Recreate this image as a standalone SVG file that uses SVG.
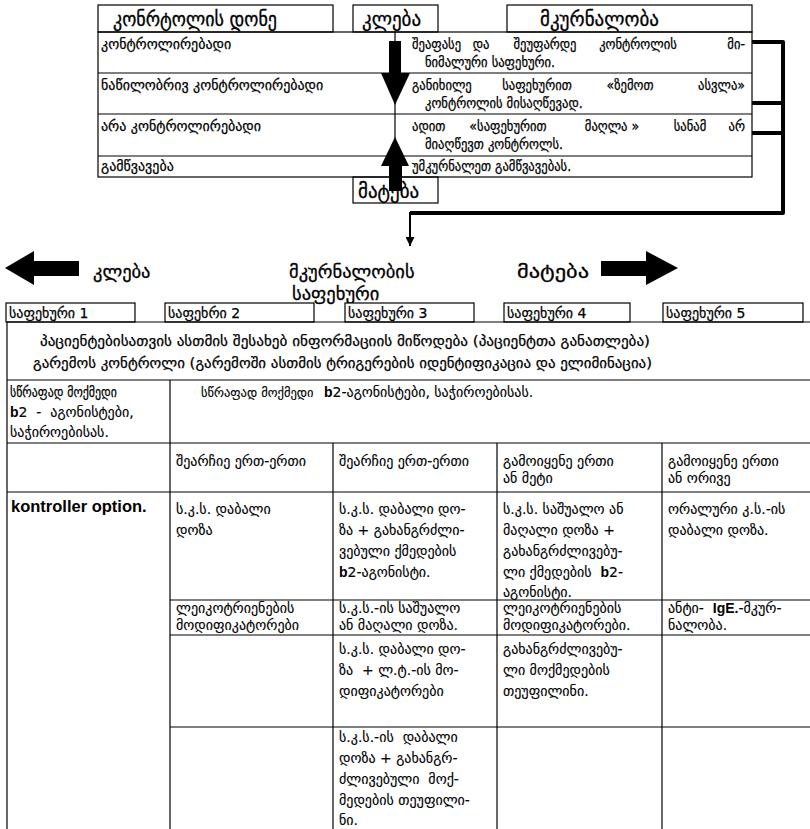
<svg xmlns="http://www.w3.org/2000/svg" width="810" height="829" viewBox="0 0 810 829">
  <style>
    text { font-family: "DejaVu Sans", "Noto Sans", sans-serif; fill: #000; white-space: pre; }
    .cond { font-family: "DejaVu Sans Condensed", "DejaVu Sans", sans-serif; font-stretch: condensed; }
    .hd { font-size: 19px; stroke: #000; stroke-width: 0.3; }
    .tt { font-size: 14px; stroke: #000; stroke-width: 0.25; }
    .mid { font-size: 18.5px; stroke: #000; stroke-width: 0.3; }
    .st { font-size: 14px; stroke: #000; stroke-width: 0.25; }
    .cell { font-size: 14px; stroke: #000; stroke-width: 0.15; }
    .lat { font-family: "Liberation Sans", Arial, sans-serif; font-weight: bold; stroke: none; }
    .ln { stroke: #000; stroke-width: 1.2; fill: none; }
    .box { stroke: #000; stroke-width: 1.2; fill: #fff; }
    .thick { stroke: #000; stroke-width: 4; fill: none; stroke-linejoin: round; }
    .blk { fill: #000; stroke: none; }
  </style>
  <defs>
    <marker id="tip" viewBox="0 0 10 10" refX="10" refY="5" markerWidth="9" markerHeight="9" markerUnits="userSpaceOnUse" orient="auto">
      <path d="M0,0 L10,5 L0,10 Z" fill="#000"/>
    </marker>
  </defs>

  <!-- step down / step up arrows (drawn under the labels) -->
  <g id="step-arrows">
    <path class="blk" d="M389,41 H401 V73 H410 L395,105 L381,73 H389 Z"/>
    <path class="blk" d="M395,137 L409,166 H402 V191 H389 V166 H381 Z"/>
  </g>

  <!-- control level table -->
  <g id="control-table">
    <rect class="box" x="98" y="5" width="235" height="27"/>
    <text class="hd cond" x="113" y="26" textLength="164" lengthAdjust="spacingAndGlyphs">კონრტოლის დონე</text>
    <rect class="box" x="353" y="5" width="85" height="27"/>
    <text class="hd" x="362" y="26">კლება</text>
    <rect class="box" x="507" y="5" width="245" height="27"/>
    <text class="hd" x="540" y="26">მკურნალობა</text>

    <rect class="ln" x="98" y="32" width="654" height="145"/>
    <line class="ln" x1="98" y1="73" x2="752" y2="73"/>
    <line class="ln" x1="98" y1="114" x2="752" y2="114"/>
    <line class="ln" x1="98" y1="156" x2="752" y2="156"/>
    <line class="ln" x1="395" y1="32" x2="395" y2="177"/>

    <text class="tt" x="101" y="49">კონტროლირებადი</text>
    <text class="tt" x="101" y="90">ნაწილობრივ კონტროლირებადი</text>
    <text class="tt" x="101" y="131">არა კონტროლირებადი</text>
    <text class="tt" x="101" y="171">გამწვავება</text>

    <g class="tt cond">
      <text x="412" y="49">შეაფასე</text>
      <text x="481" y="49" text-anchor="middle">და</text>
      <text x="545" y="49" text-anchor="middle">შეუფარდე</text>
      <text x="638" y="49" text-anchor="middle">კონტროლის</text>
      <text x="745" y="49" text-anchor="end">მი-</text>
      <text x="425" y="67">ნიმალური საფეხური.</text>

      <text x="412" y="90">განიხილე</text>
      <text x="537" y="90" text-anchor="middle">საფეხურით</text>
      <text x="630" y="90" text-anchor="middle">«ზემოთ</text>
      <text x="745" y="90" text-anchor="end">ასვლა»</text>
      <text x="425" y="108">კონტროლის მისაღწევად.</text>

      <text x="412" y="131">ადით</text>
      <text x="508" y="131" text-anchor="middle">«საფეხურით</text>
      <text x="612" y="131" text-anchor="middle">მაღლა »</text>
      <text x="690" y="131" text-anchor="middle">სანამ</text>
      <text x="745" y="131" text-anchor="end">არ</text>
      <text x="425" y="149">მიაღწევთ კონტროლს.</text>

      <text x="412" y="171">უმკურნალეთ გამწვავებას.</text>
    </g>
  </g>

  <g id="increase-box">
    <rect x="353" y="177" width="85" height="26" fill="none" stroke="#000" stroke-width="1.2"/>
    <text class="hd" x="358" y="198">მატება</text>
  </g>

  <!-- connectors from treatment column to the steps -->
  <g id="connectors">
    <path class="thick" d="M752,42 H783 V213 H410"/>
    <line class="thick" x1="752" y1="103" x2="783" y2="103"/>
    <line class="thick" x1="752" y1="133" x2="783" y2="133"/>
    <line stroke="#000" stroke-width="2" x1="410" y1="212" x2="410" y2="246" marker-end="url(#tip)"/>
  </g>

  <!-- treatment steps heading -->
  <g id="steps-heading">
    <path class="blk" d="M5,268 L34,251 V261 H79 V276 H34 V285 Z"/>
    <text class="mid" x="93" y="278">კლება</text>
    <text class="mid" x="289" y="278">მკურნალობის</text>
    <text class="mid" x="292" y="300">საფეხური</text>
    <text class="mid" x="517" y="278" textLength="72" lengthAdjust="spacingAndGlyphs">მატება</text>
    <path class="blk" d="M678,268 L646,251 V261 H601 V276 H646 V285 Z"/>
  </g>

  <g id="step-1"><rect class="box" x="6" y="303" width="129" height="19"/><text class="st" x="9" y="318">საფეხური 1</text></g>
  <g id="step-2"><rect class="box" x="165" y="303" width="149" height="19"/><text class="st" x="168" y="318">საფეხრი 2</text></g>
  <g id="step-3"><rect class="box" x="345" y="303" width="129" height="19"/><text class="st" x="348" y="318">საფეხური 3</text></g>
  <g id="step-4"><rect class="box" x="504" y="303" width="126" height="19"/><text class="st" x="507" y="318">საფეხური 4</text></g>
  <g id="step-5"><rect class="box" x="663" y="303" width="140" height="19"/><text class="st" x="666" y="318">საფეხური 5</text></g>

  <!-- steps table -->
  <g id="steps-table">
    <line class="ln" x1="7" y1="322" x2="810" y2="322"/>
    <line class="ln" x1="7" y1="322" x2="7" y2="829"/>
    <line class="ln" x1="7" y1="380" x2="810" y2="380"/>
    <line class="ln" x1="7" y1="443" x2="810" y2="443"/>
    <line class="ln" x1="7" y1="492" x2="810" y2="492"/>
    <line class="ln" x1="170" y1="600" x2="810" y2="600"/>
    <line class="ln" x1="170" y1="635" x2="810" y2="635"/>
    <line class="ln" x1="170" y1="727" x2="810" y2="727"/>
    <line class="ln" x1="170" y1="380" x2="170" y2="829"/>
    <line class="ln" x1="333" y1="443" x2="333" y2="829"/>
    <line class="ln" x1="497" y1="443" x2="497" y2="829"/>
    <line class="ln" x1="662" y1="443" x2="662" y2="829"/>

    <text class="tt" x="40" y="346" textLength="610" lengthAdjust="spacingAndGlyphs">პაციენტებისათვის ასთმის შესახებ ინფორმაციის მიწოდება (პაციენტთა განათლება)</text>
    <text class="tt" x="33" y="368" textLength="619" lengthAdjust="spacingAndGlyphs">გარემოს კონტროლი (გარემოში ასთმის ტრიგერების იდენტიფიკაცია და ელიმინაცია)</text>

    <text class="tt" x="10" y="397" textLength="107" lengthAdjust="spacingAndGlyphs">სწრაფად მოქმედი</text>
    <text class="cell" x="10" y="417"><tspan class="lat">b</tspan><tspan>2  -  აგონისტები,</tspan></text>
    <text class="cell" x="10" y="437">საჭიროებისას.</text>
    <text class="cell" x="201" y="397"><tspan font-size="12.5">სწრაფად მოქმედი</tspan><tspan class="lat" x="324">b</tspan><tspan>2-აგონისტები, საჭიროებისას.</tspan></text>

    <text class="cell" x="176" y="466">შეარჩიე ერთ-ერთი</text>
    <text class="cell" x="339" y="466">შეარჩიე ერთ-ერთი</text>
    <text class="cell" x="503" y="466">გამოიყენე ერთი</text>
    <text class="cell" x="503" y="483">ან მეტი</text>
    <text class="cell" x="668" y="466">გამოიყენე ერთი</text>
    <text class="cell" x="668" y="483">ან ორივე</text>

    <text class="lat" font-size="16.5" x="11" y="512">kontroller option.</text>
    <text class="cell" x="176" y="514">ს.კ.ს. დაბალი</text>
    <text class="cell" x="176" y="535">დოზა</text>
    <text class="cell" x="339" y="514">ს.კ.ს. დაბალი დო-</text>
    <text class="cell" x="339" y="535">ზა + გახანგრძლი-</text>
    <text class="cell" x="339" y="556">ვებული ქმედების</text>
    <text class="cell" x="339" y="577"><tspan class="lat">b</tspan>2-აგონისტი.</text>
    <text class="cell" x="503" y="514">ს.კ.ს. საშუალო ან</text>
    <text class="cell" x="503" y="535">მაღალი დოზა +</text>
    <text class="cell" x="503" y="556">გახანგრძლივებუ-</text>
    <text class="cell" x="503" y="577">ლი ქმედების  <tspan class="lat">b</tspan>2-</text>
    <text class="cell" x="503" y="597">აგონისტი.</text>
    <text class="cell" x="668" y="514">ორალური კ.ს.-ის</text>
    <text class="cell" x="668" y="535">დაბალი დოზა.</text>

    <text class="cell" x="176" y="613">ლეიკოტრიენების</text>
    <text class="cell" x="176" y="630">მოდიფიკატორები</text>
    <text class="cell" x="339" y="613">ს.კ.ს.-ის საშუალო</text>
    <text class="cell" x="339" y="630">ან მაღალი დოზა.</text>
    <text class="cell" x="503" y="613">ლეიკოტრიენების</text>
    <text class="cell" x="503" y="630">მოდიფიკატორები.</text>
    <text class="cell" x="668" y="613">ანტი-  <tspan class="lat">IgE.</tspan>-მკურ-</text>
    <text class="cell" x="668" y="630">ნალობა.</text>

    <text class="cell" x="339" y="654">ს.კ.ს. დაბალი დო-</text>
    <text class="cell" x="339" y="675">ზა  + ლ.ტ.-ის მო-</text>
    <text class="cell" x="339" y="696">დიფიკატორები</text>
    <text class="cell" x="503" y="654">გახანგრძლივებუ-</text>
    <text class="cell" x="503" y="675">ლი მოქმედების</text>
    <text class="cell" x="503" y="696">თეუფილინი.</text>

    <text class="cell" x="339" y="742">ს.კ.ს.-ის  დაბალი</text>
    <text class="cell" x="339" y="763">დოზა + გახანგრ-</text>
    <text class="cell" x="339" y="784">ძლივებული  მოქ-</text>
    <text class="cell" x="339" y="805">მედების თეუფილი-</text>
    <text class="cell" x="339" y="825">ნი.</text>
  </g>
</svg>
